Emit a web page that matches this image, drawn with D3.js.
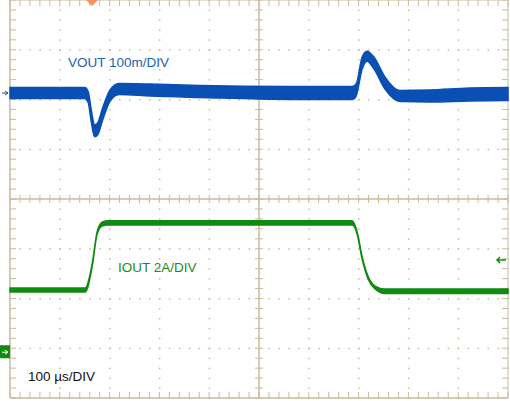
<!DOCTYPE html>
<html><head><meta charset="utf-8">
<script src="https://cdn.jsdelivr.net/npm/d3@7"></script>
<style>body{margin:0;background:#fff}svg{display:block}</style>
</head><body>
<script>
// time axis, µs (100 µs/DIV, 10 divisions)
var vTime   = [0, 150, 157, 163, 170, 176, 186, 201, 219, 281, 381, 562, 687, 695, 707, 717, 731, 753, 783, 843, 923, 1000];
var vOut    = [0, 0, -8, -45, -76, -72, -42, -5, 8, 6, 3, 0, 0, 6, 60, 74, 60, 20, -6, -6, -3, -2];   // mV
var vSpread = [11, 11, 11, 12, 12, 12, 12, 11, 11, 12, 12, 13, 13, 12, 12, 10, 12, 12, 11, 12, 13, 13];

var iTime   = [0, 151, 165, 175, 185, 195, 687, 697, 707, 719, 733, 753, 1000];
var iOut    = [2.5, 2.5, 3.5, 4.8, 5.15, 5.2, 5.2, 4.8, 3.8, 3.0, 2.6, 2.45, 2.45]; // A
var iSpread = [0.08, 0.08, 0.05, 0.05, 0.08, 0.09, 0.09, 0.05, 0.05, 0.05, 0.06, 0.09, 0.09];

var W = 510, H = 401,
    pLeft = 10, pRight = 508, pTop = 0, pBottom = 398,
    grid = "#c9bb9c";

var svg = d3.select("body").append("svg").attr("width", W).attr("height", H);

var x = d3.scaleLinear().domain([0, 1000]).range([pLeft, pRight]);
var yDiv = d3.scaleLinear().domain([0, 8]).range([pBottom, pTop]);
var vDiv = 100, vZero = 6.13;   // mV per div, marker position in divs
var iDiv = 2, iZero = 0.92;     // A per div
var yV = function (v) { return yDiv(vZero + v / vDiv); };
var yI = function (a) { return yDiv(iZero + a / iDiv); };

// dotted grid
var g = svg.append("g");
for (var i = 1; i < 10; i++) {
    if (i === 5) continue;
    for (var j = 0; j <= 40; j++) {
        g.append("rect").attr("x", x(i * 100) - 0.5).attr("y", yDiv(j / 5) - 0.5).attr("width", 1.5).attr("height", 1.5).attr("fill", grid);
    }
}
for (var k = 1; k < 8; k++) {
    if (k === 4) continue;
    for (var m = 0; m <= 50; m++) {
        g.append("rect").attr("x", x(m * 20) - 0.5).attr("y", yDiv(k) - 0.5).attr("width", 1.5).attr("height", 1.5).attr("fill", grid);
    }
}
// centre lines and frame
g.append("line").attr("x1", pLeft).attr("x2", pRight).attr("y1", yDiv(4)).attr("y2", yDiv(4)).attr("stroke", grid).attr("stroke-width", 1.5);
g.append("line").attr("x1", x(500)).attr("x2", x(500)).attr("y1", pTop).attr("y2", pBottom).attr("stroke", grid).attr("stroke-width", 1.5);
g.append("line").attr("x1", pLeft).attr("x2", pLeft).attr("y1", pTop).attr("y2", pBottom).attr("stroke", grid).attr("stroke-width", 1.5);
g.append("line").attr("x1", pLeft).attr("x2", pRight).attr("y1", pBottom).attr("y2", pBottom).attr("stroke", grid).attr("stroke-width", 1.5);
g.append("line").attr("x1", pRight).attr("x2", pRight).attr("y1", pTop).attr("y2", pBottom).attr("stroke", grid).attr("stroke-width", 1);
g.append("line").attr("x1", pLeft).attr("x2", pRight).attr("y1", pTop).attr("y2", pTop).attr("stroke", grid).attr("stroke-width", 1);
// minor ticks
for (var t = 0; t <= 50; t++) {
    var tx = x(t * 20);
    [[yDiv(4) - 4, yDiv(4) + 4], [pBottom - 6, pBottom], [pTop, pTop + 6]].forEach(function (p) {
        g.append("line").attr("x1", tx).attr("x2", tx).attr("y1", p[0]).attr("y2", p[1]).attr("stroke", grid);
    });
}
for (var s = 0; s <= 40; s++) {
    var ty = yDiv(s / 5);
    [[x(500) - 4, x(500) + 4], [pLeft, pLeft + 6], [pRight - 6, pRight]].forEach(function (p) {
        g.append("line").attr("x1", p[0]).attr("x2", p[1]).attr("y1", ty).attr("y2", ty).attr("stroke", grid);
    });
}

// traces
var vArea = d3.area().x(function (d, i) { return x(vTime[i]); })
    .y0(function (d, i) { return yV(vOut[i] - vSpread[i]); })
    .y1(function (d, i) { return yV(vOut[i] + vSpread[i]); })
    .curve(d3.curveMonotoneX);
svg.append("path").attr("d", vArea(vTime)).attr("fill", "#0a4fb3").attr("stroke", "#0a4fb3").attr("stroke-width", 1.5);

var iArea = d3.area().x(function (d, i) { return x(iTime[i]); })
    .y0(function (d, i) { return yI(iOut[i] - iSpread[i]); })
    .y1(function (d, i) { return yI(iOut[i] + iSpread[i]); })
    .curve(d3.curveMonotoneX);
svg.append("path").attr("d", iArea(iTime)).attr("fill", "#0f8a12").attr("stroke", "#0f8a12").attr("stroke-width", 1.5);

// markers
svg.append("path").attr("d", "M86,0 L92,6 L98,0 Z").attr("fill", "#f7925a");
svg.append("path").attr("d", "M2," + yV(0) + " L8," + yV(0) + " M5," + (yV(0) - 2) + " L8," + yV(0) + " L5," + (yV(0) + 2)).attr("stroke", "#0a4fb3").attr("fill", "none");
svg.append("rect").attr("x", 0).attr("y", yI(0) - 7).attr("width", 10).attr("height", 13).attr("fill", "#0f8a12");
svg.append("path").attr("d", "M2," + yI(0) + " L8," + yI(0) + " M5," + (yI(0) - 2) + " L8," + yI(0) + " L5," + (yI(0) + 2)).attr("stroke", "#fff").attr("fill", "none");
svg.append("path").attr("d", "M506,260 L497,260 M500,257 L497,260 L500,263").attr("stroke", "#0f8a12").attr("fill", "none").attr("stroke-width", 1.5);

// labels
var font = "Arial, 'Liberation Sans', sans-serif";
svg.append("text").attr("x", 68).attr("y", 67).attr("font-family", font).attr("font-size", 13.5).attr("fill", "#1b63b0").text("VOUT 100m/DIV");
svg.append("text").attr("x", 118).attr("y", 272).attr("font-family", font).attr("font-size", 13.5).attr("fill", "#1b8a22").text("IOUT 2A/DIV");
svg.append("text").attr("x", 28).attr("y", 381).attr("font-family", font).attr("font-size", 13.5).attr("fill", "#111").text("100 µs/DIV");
</script>
</body></html>
